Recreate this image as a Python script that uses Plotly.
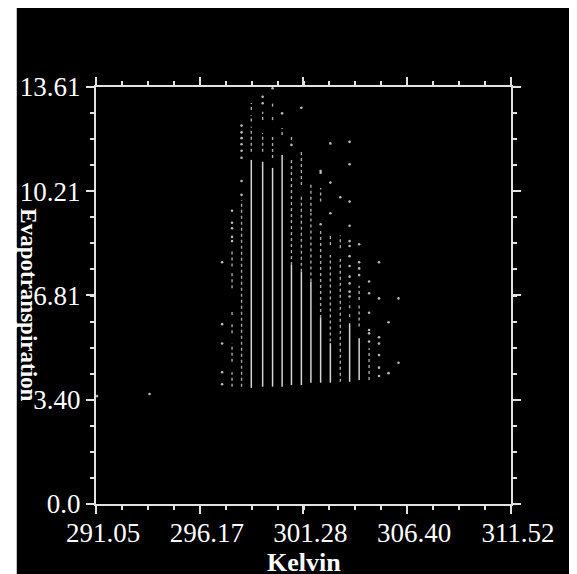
import plotly.graph_objects as go

# ---- data ----
x_tick_vals = [291.05, 296.17, 301.28, 306.40, 311.52]
x_tick_text = ["291.05", "296.17", "301.28", "306.40", "311.52"]
y_tick_vals = [0.0, 3.40, 6.81, 10.21, 13.61]
y_tick_text = ["0.0", "3.40", "6.81", "10.21", "13.61"]

col_x = [297.27, 297.76, 298.23, 298.71, 299.27, 299.76, 300.23, 300.69, 301.18,
         301.65, 302.13, 302.61, 303.10, 303.56, 304.03, 304.52, 305.01, 305.48, 305.97]

# dense (near-continuous) runs of points: column index, low, high
dense_col = [3, 4, 5, 6, 7, 8, 9, 10, 11, 13, 14]
dense_lo = [3.79, 3.83, 3.83, 3.83, 3.88, 3.88, 3.96, 3.96, 3.96, 3.99, 4.05]
dense_hi = [11.23, 11.17, 10.97, 11.39, 7.80, 7.58, 7.26, 6.07, 5.25, 5.90, 5.41]

# sparser (dotted) runs of points: column index, low, high
sparse_col = [1, 1, 1, 1, 1, 1, 2, 3, 3, 3, 4, 4, 5, 5, 5, 6, 7, 7, 8, 8, 9, 9,
              10, 10, 11, 11, 12, 12, 13, 13, 14, 14, 15]
sparse_lo = [7.75, 7.04, 6.17, 5.57, 4.64, 3.83, 3.83, 12.86, 12.48, 11.50, 12.53, 11.50,
             12.97, 12.53, 11.29, 12.04, 11.88, 7.80, 10.41, 7.58, 9.54, 7.26,
             9.87, 6.07, 8.45, 5.30, 8.35, 3.99, 6.39, 6.10, 6.66, 5.79, 4.05]
sparse_hi = [8.27, 7.58, 6.35, 5.92, 5.24, 4.30, 9.92, 13.09, 12.70, 12.31, 12.80, 12.11,
             13.09, 12.70, 12.04, 12.27, 12.04, 11.30, 11.59, 10.03, 10.52, 9.50,
             10.31, 8.94, 8.81, 8.13, 8.76, 8.07, 6.60, 6.23, 7.12, 6.50, 5.08]

# isolated points: column index, value
pt_col = [0, 0, 0, 0, 0,
          1, 1, 1, 1, 1,
          2, 2, 2, 2, 2, 2, 2, 2,
          4, 4, 5, 6, 7, 8, 10, 10, 10, 11, 11, 11, 12,
          13, 13, 13, 13, 13, 13, 13, 13, 13, 13, 13, 13,
          14, 14, 14, 14,
          15, 15, 15, 15, 15, 15,
          16, 16, 16, 16, 16, 16, 16,
          17, 17, 18, 18]
pt_y = [7.89, 5.87, 5.24, 4.30, 3.91,
        9.57, 9.18, 9.00, 8.72, 8.58,
        12.35, 12.13, 11.94, 11.74, 11.53, 11.30, 10.54, 10.09,
        13.29, 13.08, 13.57, 12.75, 11.72, 12.93, 10.81, 9.13, 10.87, 9.49, 11.77, 10.49, 10.01,
        11.82, 11.09, 9.87, 9.08, 8.58, 8.42, 8.09, 7.77, 7.42, 7.20, 6.93, 6.77,
        8.48, 7.89, 7.69, 7.47,
        7.26, 6.88, 6.24, 5.68, 5.57, 5.30,
        7.89, 6.71, 5.44, 5.24, 4.86, 4.45, 4.18,
        5.93, 4.27, 6.71, 4.61]

out_x = [293.69, 291.10]
out_y = [3.59, 3.52]

AXIS_COLOR = "#e2e2e2"
FONT = "Liberation Serif, Times New Roman, serif"


def runs_to_xy(cols, lo, hi):
    xs, ys = [], []
    for c, a, b in zip(cols, lo, hi):
        xs += [col_x[c], col_x[c], None]
        ys += [a, b, None]
    return xs, ys


fig = go.Figure()

dx, dy = runs_to_xy(dense_col, dense_lo, dense_hi)
fig.add_trace(go.Scatter(x=dx, y=dy, mode="lines",
                         line=dict(color="#d4d4d4", width=1.5),
                         hoverinfo="skip", showlegend=False))

sx, sy = runs_to_xy(sparse_col, sparse_lo, sparse_hi)
fig.add_trace(go.Scatter(x=sx, y=sy, mode="lines",
                         line=dict(color="#a8a8a8", width=1.4, dash="dot"),
                         hoverinfo="skip", showlegend=False))

fig.add_trace(go.Scatter(x=[col_x[c] for c in pt_col], y=pt_y, mode="markers",
                         marker=dict(color="#b8b8b8", size=2.6, line=dict(width=0)),
                         showlegend=False))

fig.add_trace(go.Scatter(x=out_x, y=out_y, mode="markers",
                         marker=dict(color="#b8b8b8", size=2.6, line=dict(width=0)),
                         showlegend=False))

axis_common = dict(
    showgrid=False, zeroline=False, showline=True, linecolor=AXIS_COLOR, linewidth=2,
    ticks="outside", ticklen=8, tickwidth=2, tickcolor=AXIS_COLOR, mirror="ticks",
    tickfont=dict(family=FONT, size=27, color="white"),
)

fig.update_xaxes(
    range=[291.05, 311.52], tickmode="array", tickvals=x_tick_vals, ticktext=x_tick_text,
    minor=dict(ticks="outside", ticklen=4, tickwidth=2, tickcolor=AXIS_COLOR,
               tick0=291.05, dtick=(311.52 - 291.05) / 16),
    ticklabelshift=7, ticklabelstandoff=-4,
    **axis_common,
)
fig.update_yaxes(
    range=[0.0, 13.61], tickmode="array", tickvals=y_tick_vals, ticktext=y_tick_text,
    minor=dict(ticks="outside", ticklen=4, tickwidth=2, tickcolor=AXIS_COLOR,
               tick0=0.0, dtick=13.61 / 16),
    **axis_common,
)

# the page adds an 8px body margin, so figure pixels = page pixels - 8
W, H = 577, 574
L, R, T, B = 84, 74, 79, 78
pw, ph = W - L - R, H - T - B


def px(x):
    return (x - L) / pw


def py(y):
    return (H - B - y) / ph


fig.update_layout(
    width=W, height=H,
    margin=dict(l=L, r=R, t=T, b=B, pad=0),
    paper_bgcolor="black", plot_bgcolor="black",
    font=dict(family=FONT, color="white"),
    shapes=[
        dict(type="rect", xref="paper", yref="paper", x0=px(-10), x1=px(4), y0=py(-10), y1=py(H + 10),
             fillcolor="white", line=dict(width=0), layer="below"),
    ],
    annotations=[
        dict(text="<b>Kelvin</b>", xref="paper", yref="paper", x=0.5, y=py(554),
             xanchor="center", yanchor="middle", showarrow=False,
             font=dict(family=FONT, size=26, color="white")),
        dict(text="<b>Evapotranspiration</b>", xref="paper", yref="paper", x=px(16), y=py(297),
             xanchor="center", yanchor="middle", textangle=90, showarrow=False,
             font=dict(family=FONT, size=23, color="white")),
    ],
)

fig.write_html("out.html")
